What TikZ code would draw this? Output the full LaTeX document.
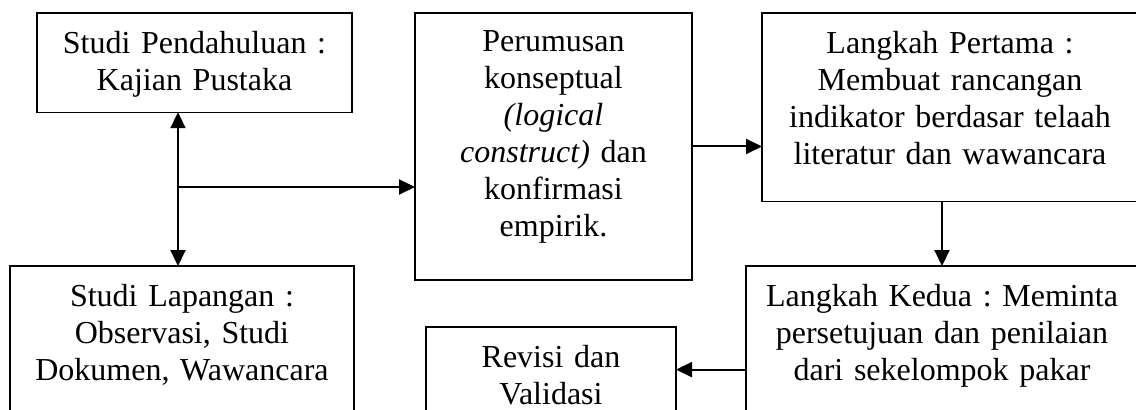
\documentclass[tikz,border=0pt]{standalone}
\usepackage{fontspec}
\setmainfont{Liberation Serif}
\usetikzlibrary{arrows.meta}
\frenchspacing

\begin{document}
\begin{tikzpicture}[x=0.5pt, y=-0.5pt,
  every node/.style={rectangle, draw, line width=0.65pt, align=center, anchor=north,
    inner xsep=5pt, inner ysep=9pt, outer sep=0pt, font=\fontsize{16}{18.5}\selectfont},
  arr/.style={-{Triangle[width=7.5pt,length=8pt]}, line width=1pt}]
  \useasboundingbox (0,0) rectangle (1136,409);
  \clip (0,0) rectangle (1136,409);

  \node[text width=147.5pt, text depth=20.5pt] (pendahuluan) at (194.5,13) {Studi Pendahuluan :\\ Kajian Pustaka};
  \node[text width=162pt, text depth=80pt]     (lapangan)    at (182,266)   {Studi Lapangan :\\ Observasi, Studi\\ Dokumen, Wawancara};
  \node[text width=128.5pt, text depth=105pt]  (perumusan)   at (553.5,13)  {Perumusan\\ konseptual\\ \textit{(logical}\\ \textit{construct)} dan\\ konfirmasi\\ empirik.};
  \node[text width=178pt, text depth=65pt]     (pertama)     at (950,13)    {Langkah Pertama :\\ Membuat rancangan\\ indikator berdasar telaah\\ literatur dan wawancara};
  \node[text width=186pt, text depth=74.5pt]   (kedua)       at (942,266)   {Langkah Kedua : Meminta\\ persetujuan dan penilaian\\ dari sekelompok pakar};
  \node[text width=115pt, text depth=40pt]     (revisi)      at (551,327)   {Revisi dan\\ Validasi};
  \coordinate (cabang) at (178,187);

  \draw[arr] (cabang) -- (cabang |- pendahuluan.south);
  \draw[arr] (cabang) -- (cabang |- lapangan.north);
  \draw[arr] (cabang) -- (cabang -| perumusan.west);
  \draw[arr] (perumusan.east) -- (perumusan.east -| pertama.west);
  \draw[arr] (pertama.south -| kedua.north) -- (kedua.north);
  \draw[arr] (kedua.west) -- (kedua.west -| revisi.east);
\end{tikzpicture}
\end{document}
